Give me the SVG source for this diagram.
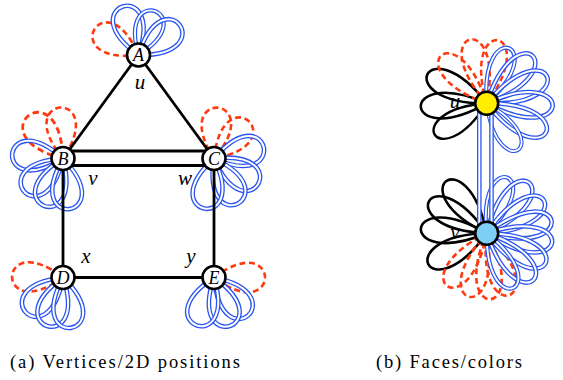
<svg xmlns="http://www.w3.org/2000/svg" xmlns:xlink="http://www.w3.org/1999/xlink" width="563" height="380" viewBox="0 0 563 380">
<style>
.rd{fill:none;stroke:#ff3a10;stroke-width:2.6;stroke-dasharray:6 3.6}
.bk{fill:none;stroke:#000;stroke-width:2.6}
.edge{fill:none;stroke:#000;stroke-width:2.8}
.node{stroke:#000;stroke-width:2.6;fill:#fff}
.nl{font-family:"Liberation Serif",serif;font-style:italic;font-size:18px;text-anchor:middle}
.lab{font-family:"Liberation Serif",serif;font-style:italic;font-size:21px;text-anchor:middle}
.cap{font-family:"Liberation Serif",serif;font-size:18.5px}
</style>
<defs>
<path id="pa" d="M0,0 C68,-51 68,51 0,0" fill="none"/>
<path id="pb" d="M0,0 C88,-44 88,44 0,0" fill="none"/>
<g id="ba"><use href="#pa" stroke="#2a55ee" stroke-width="4.6"/><use href="#pa" stroke="#fff" stroke-width="2"/></g>
<g id="bb"><use href="#pb" stroke="#2a55ee" stroke-width="4.6"/><use href="#pb" stroke="#fff" stroke-width="2"/></g>
</defs>
<g id="connectors">
<g id="loops-a">
<use href="#pa" class="rd" transform="translate(138.5,55) rotate(-150)"/>
<use href="#ba" transform="translate(138.5,55) rotate(-108)"/>
<use href="#ba" transform="translate(138.5,55) rotate(-69) scale(0.92)"/>
<use href="#ba" transform="translate(138.5,55) rotate(-36)"/>
<use href="#pa" class="rd" transform="translate(63,158.5) rotate(-129) scale(1.08)"/>
<use href="#pa" class="rd" transform="translate(63,158.5) rotate(-93)"/>
<use href="#ba" transform="translate(63,158.5) rotate(-175)"/>
<use href="#ba" transform="translate(63,158.5) rotate(140)"/>
<use href="#ba" transform="translate(63,158.5) rotate(112)"/>
<use href="#ba" transform="translate(63,158.5) rotate(83)"/>
<use href="#pa" class="rd" transform="translate(214,158.5) rotate(-86)"/>
<use href="#pa" class="rd" transform="translate(214,158.5) rotate(-47)"/>
<use href="#ba" transform="translate(214,158.5) rotate(-13)"/>
<use href="#ba" transform="translate(214,158.5) rotate(30)"/>
<use href="#ba" transform="translate(214,158.5) rotate(62)"/>
<use href="#ba" transform="translate(214,158.5) rotate(101)"/>
<use href="#pa" class="rd" transform="translate(63,277.5) rotate(181)"/>
<use href="#ba" transform="translate(63,277.5) rotate(137)"/>
<use href="#ba" transform="translate(63,277.5) rotate(108)"/>
<use href="#ba" transform="translate(63,277.5) rotate(81)"/>
<use href="#pa" class="rd" transform="translate(214,277.5) rotate(0)"/>
<use href="#ba" transform="translate(214,277.5) rotate(48)"/>
<use href="#ba" transform="translate(214,277.5) rotate(72)"/>
<use href="#ba" transform="translate(214,277.5) rotate(110)"/>
</g>
<g id="edges-a">
<line class="edge" x1="138.5" y1="55" x2="63" y2="158.5"/>
<line class="edge" x1="138.5" y1="55" x2="214" y2="158.5"/>
<line x1="63" y1="158.3" x2="214" y2="158.3" stroke="#000" stroke-width="17.5"/>
<line x1="63" y1="158.3" x2="214" y2="158.3" stroke="#fff" stroke-width="11.5"/>
<line class="edge" x1="63" y1="158.5" x2="63" y2="277.5"/>
<line class="edge" x1="214" y1="158.5" x2="214" y2="277.5"/>
<line class="edge" x1="63" y1="277.5" x2="214" y2="277.5"/>
</g>
<g id="loops-b">
<use href="#pb" class="bk" transform="translate(486.7,103.3) rotate(-154)"/>
<use href="#pb" class="bk" transform="translate(486.7,103.3) rotate(177)"/>
<use href="#pb" class="bk" transform="translate(486.7,103.3) rotate(149) scale(0.92)"/>
<use href="#pb" class="rd" transform="translate(486.7,103.3) rotate(-134)"/>
<use href="#pb" class="rd" transform="translate(486.7,103.3) rotate(-105)"/>
<use href="#pb" class="rd" transform="translate(486.7,103.3) rotate(-80) scale(0.97)"/>
<use href="#bb" transform="translate(486.7,103.3) rotate(-68) scale(0.9)"/>
<use href="#bb" transform="translate(486.7,103.3) rotate(-46)"/>
<use href="#bb" transform="translate(486.7,103.3) rotate(-24)"/>
<use href="#bb" transform="translate(486.7,103.3) rotate(2)"/>
<use href="#bb" transform="translate(486.7,103.3) rotate(26)"/>
<use href="#bb" transform="translate(486.7,103.3) rotate(56) scale(0.85)"/>
<use href="#pb" class="bk" transform="translate(486.7,233.3) rotate(-128)"/>
<use href="#pb" class="bk" transform="translate(486.7,233.3) rotate(-151)"/>
<use href="#pb" class="bk" transform="translate(486.7,233.3) rotate(-176)"/>
<use href="#pb" class="bk" transform="translate(486.7,233.3) rotate(152)"/>
<use href="#pb" class="rd" transform="translate(486.7,233.3) rotate(127)"/>
<use href="#pb" class="rd" transform="translate(486.7,233.3) rotate(106)"/>
<use href="#pb" class="rd" transform="translate(486.7,233.3) rotate(87)"/>
<use href="#pb" class="rd" transform="translate(486.7,233.3) rotate(70)"/>
<use href="#bb" transform="translate(486.7,233.3) rotate(-70) scale(0.9)"/>
<use href="#bb" transform="translate(486.7,233.3) rotate(-50)"/>
<use href="#bb" transform="translate(486.7,233.3) rotate(-30)"/>
<use href="#bb" transform="translate(486.7,233.3) rotate(-11)"/>
<use href="#bb" transform="translate(486.7,233.3) rotate(8)"/>
<use href="#bb" transform="translate(486.7,233.3) rotate(27)"/>
<use href="#bb" transform="translate(486.7,233.3) rotate(45)"/>
<use href="#bb" transform="translate(486.7,233.3) rotate(64) scale(0.92)"/>
</g>
<g id="edges-b">
<line x1="479.3" y1="103.3" x2="479.3" y2="233.3" stroke="#2a55ee" stroke-width="4.6"/>
<line x1="479.3" y1="103.3" x2="479.3" y2="233.3" stroke="#fff" stroke-width="2"/>
<line x1="491.5" y1="103.3" x2="491.5" y2="233.3" stroke="#2a55ee" stroke-width="4.6"/>
<line x1="491.5" y1="103.3" x2="491.5" y2="233.3" stroke="#fff" stroke-width="2"/>
</g>
</g>
<g id="node-A"><circle class="node" cx="138.5" cy="55" r="11.5"/><text class="nl" x="138.5" y="61">A</text></g>
<g id="node-B"><circle class="node" cx="63" cy="158.5" r="11.5"/><text class="nl" x="63" y="164.5">B</text></g>
<g id="node-C"><circle class="node" cx="214" cy="158.5" r="11.5"/><text class="nl" x="214" y="164.5">C</text></g>
<g id="node-D"><circle class="node" cx="63" cy="277.5" r="11.5"/><text class="nl" x="63" y="283.5">D</text></g>
<g id="node-E"><circle class="node" cx="214" cy="277.5" r="11.5"/><text class="nl" x="214" y="283.5">E</text></g>
<g id="node-u"><circle class="node" cx="486.7" cy="103.3" r="11.5" style="fill:#ffee00"/></g>
<g id="node-v"><circle class="node" cx="486.7" cy="233.3" r="11.5" style="fill:#7dcff8"/></g>
<g id="labels">
<text class="lab" x="140" y="89">u</text>
<text class="lab" x="93" y="185">v</text>
<text class="lab" x="185" y="185">w</text>
<text class="lab" x="86" y="263">x</text>
<text class="lab" x="191" y="263">y</text>
<text class="lab" x="455" y="108">u</text>
<text class="lab" x="455" y="239">v</text>
</g>
<text class="cap" x="10" y="368" textLength="230" lengthAdjust="spacing">(a) Vertices/2D positions</text>
<text class="cap" x="376" y="368" textLength="146" lengthAdjust="spacing">(b) Faces/colors</text>
</svg>
